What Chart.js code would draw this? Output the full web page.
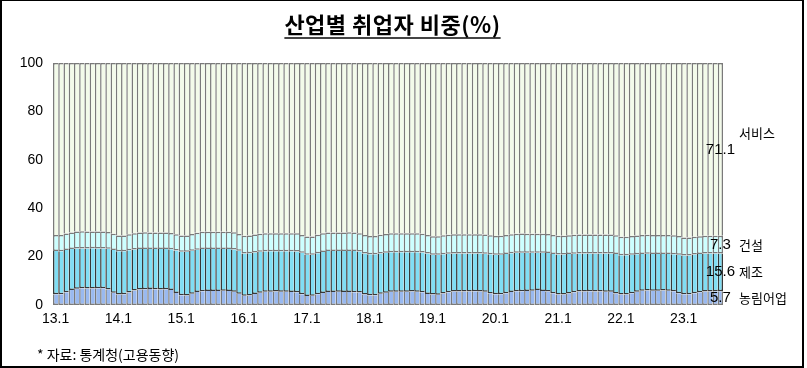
<!DOCTYPE html>
<html>
<head>
<meta charset="utf-8">
<script src="https://cdn.jsdelivr.net/npm/chart.js@4.4.0/dist/chart.umd.min.js"></script>
<style>
  body { margin: 0; background: #fff; }
  #wrap { position: relative; width: 807px; height: 368px; }
  #frame { position: absolute; left: 0; top: 0; width: 804px; height: 368px; box-sizing: border-box;
           border: 2px solid #000; border-top-width: 1px; pointer-events: none; }
  #title { position: absolute; left: 0; top: 12px; width: 785px; text-align: center;
           font: bold 22px "Noto Sans CJK KR", sans-serif; line-height: 22px; color: #000;
           letter-spacing: 0.5px;
           text-decoration: underline; text-underline-offset: 4px; text-decoration-color: #444; }
  #note { position: absolute; left: 37px; top: 346px; font: 14px "Noto Sans CJK KR", sans-serif;
          line-height: 16px; color: #000; }
  canvas { position: absolute; left: 0; top: 0; }
</style>
</head>
<body>
<div id="wrap">
  <canvas id="c" width="807" height="368"></canvas>
  <div id="title">산업별 취업자 비중(%)</div>
  <div id="note">* 자료: 통계청(고용동향)</div>
  <div id="frame"></div>
</div>
<script>
// 농림어업, 제조, 건설, 서비스 share (%), monthly 13.1 ~ 23.8
const agri = [
  4.4,4.4,5.3,6.2,6.7,6.9,6.8,6.8,6.9,6.9,6.4,5.1,
  4.3,4.4,5.2,6.0,6.4,6.5,6.6,6.5,6.4,6.5,6.2,5.0,
  4.0,3.9,4.7,5.4,5.7,5.8,5.8,5.8,5.9,5.8,5.5,4.6,
  3.8,3.9,4.5,5.1,5.5,5.5,5.6,5.5,5.5,5.4,5.3,4.4,
  3.7,3.8,4.4,5.0,5.4,5.4,5.5,5.4,5.4,5.3,5.2,4.3,
  4.0,4.0,4.6,5.1,5.5,5.5,5.5,5.5,5.6,5.5,5.3,4.5,
  4.3,4.2,4.8,5.3,5.6,5.6,5.6,5.6,5.7,5.6,5.5,4.8,
  4.4,4.4,4.9,5.4,5.7,5.7,5.8,5.9,6.2,5.8,5.6,4.9,
  4.3,4.3,4.8,5.3,5.6,5.6,5.7,5.6,5.6,5.5,5.5,4.8,
  4.3,4.3,4.9,5.5,5.9,6.0,5.9,5.9,6.0,5.9,5.7,4.9,
  4.4,4.4,4.9,5.3,5.6,5.6,5.7,5.7
];
const mfg = [
  17.9,17.8,17.4,16.9,16.6,16.4,16.5,16.6,16.4,16.4,16.8,17.6,
  17.9,17.8,17.4,16.9,16.7,16.6,16.5,16.6,16.7,16.6,16.8,17.5,
  18.0,18.1,17.7,17.4,17.4,17.3,17.3,17.3,17.2,17.3,17.4,17.8,
  17.5,17.5,17.2,16.9,16.7,16.7,16.6,16.7,16.7,16.8,16.8,17.2,
  17.1,17.0,17.0,16.9,16.9,16.9,16.8,16.9,16.9,17.0,16.9,17.0,
  17.0,17.0,16.7,16.5,16.3,16.3,16.3,16.3,16.2,16.3,16.4,16.8,
  16.5,16.6,16.2,15.9,15.7,15.7,15.7,15.7,15.6,15.7,15.7,16.2,
  16.4,16.4,16.2,16.0,15.9,15.9,15.8,15.7,15.4,15.8,15.9,16.2,
  16.6,16.6,16.3,15.9,15.7,15.7,15.6,15.7,15.7,15.8,15.8,16.3,
  16.3,16.3,15.9,15.5,15.2,15.2,15.2,15.2,15.1,15.2,15.3,15.9,
  16.1,16.1,16.0,15.8,15.7,15.7,15.6,15.6
];
const cons = [
  6.6,6.7,6.8,6.9,7.1,7.2,7.1,7.0,7.1,7.1,7.0,6.7,
  6.5,6.5,6.6,6.8,6.9,7.0,6.9,6.9,6.9,6.9,6.8,6.7,
  6.7,6.7,6.9,7.1,7.2,7.2,7.2,7.2,7.2,7.2,7.2,6.9,
  7.3,7.3,7.4,7.4,7.5,7.5,7.5,7.5,7.5,7.5,7.5,7.3,
  7.5,7.5,7.6,7.7,7.7,7.7,7.7,7.7,7.8,7.7,7.6,7.6,
  7.5,7.5,7.7,7.7,7.8,7.8,7.8,7.8,7.8,7.8,7.7,7.6,
  7.6,7.6,7.8,7.8,7.9,7.9,7.9,7.9,7.9,7.9,7.9,7.8,
  7.7,7.8,7.8,7.8,7.8,7.9,7.8,7.8,7.8,7.8,7.8,7.8,
  7.7,7.7,7.7,7.8,7.8,7.8,7.8,7.8,7.8,7.8,7.8,7.7,
  7.6,7.6,7.7,7.7,7.8,7.8,7.8,7.8,7.8,7.8,7.8,7.7,
  7.4,7.4,7.3,7.3,7.3,7.3,7.3,7.3
];
const svc = [
  71.1,71.1,70.5,70.0,69.6,69.5,69.6,69.6,69.6,69.6,69.8,70.6,
  71.3,71.3,70.8,70.3,70.0,69.9,70.0,70.0,70.0,70.0,70.2,70.8,
  71.3,71.3,70.7,70.1,69.7,69.7,69.7,69.7,69.7,69.7,69.9,70.7,
  71.4,71.3,70.9,70.6,70.3,70.3,70.3,70.3,70.3,70.3,70.4,71.1,
  71.7,71.7,71.0,70.4,70.0,70.0,70.0,70.0,69.9,70.0,70.3,71.1,
  71.5,71.5,71.0,70.7,70.4,70.4,70.4,70.4,70.4,70.4,70.6,71.1,
  71.6,71.6,71.2,71.0,70.8,70.8,70.8,70.8,70.8,70.8,70.9,71.2,
  71.5,71.4,71.1,70.8,70.6,70.5,70.6,70.6,70.6,70.6,70.7,71.1,
  71.4,71.4,71.2,71.0,70.9,70.9,70.9,70.9,70.9,70.9,70.9,71.2,
  71.8,71.8,71.5,71.3,71.1,71.0,71.1,71.1,71.1,71.1,71.2,71.5,
  72.1,72.1,71.8,71.6,71.4,71.4,71.4,71.4
];
// values printed at the right end (as printed in the source)
const endValues = [5.7, 15.6, 7.3, 71.1];
const years = ['13','14','15','16','17','18','19','20','21','22','23'];
const yTicks = [0, 20, 40, 60, 80, 100];

const labels = [];
years.forEach(y => {
  for (let m = 1; m <= 12; m++) labels.push(y + '.' + m);
});
labels.length = agri.length;

Chart.defaults.font.family = '"Liberation Sans", Arial, sans-serif';
Chart.defaults.color = '#000';

const GRAY = '#7a7a7a';
const DARK = '#383838';
const lastIdx = agri.length - 1;

// borders: one line between neighbouring bars, no doubled lines at stack joins
const bw = (top, bottom) => ctx => ({
  top: top, bottom: bottom, left: 1.5, right: ctx.dataIndex === lastIdx ? 1.5 : 0
});

const endLabels = {
  id: 'endLabels',
  afterDatasetsDraw(chart) {
    const { ctx, chartArea, scales: { x, y } } = chart;
    const cx = x.getPixelForValue(lastIdx);
    let base = 0;
    ctx.save();
    ctx.fillStyle = '#000';
    ctx.textBaseline = 'middle';
    endValues.forEach((v, i) => {
      const mid = y.getPixelForValue(base + v / 2);
      base += v;
      ctx.font = '15px "Liberation Sans", Arial, sans-serif';
      ctx.textAlign = 'center';
      ctx.fillText(v.toFixed(1), cx, mid);
      ctx.font = '13px "Noto Sans CJK KR", sans-serif';
      ctx.textAlign = 'left';
      ctx.fillText(chart.data.datasets[i].label, chartArea.right + 16, i === 3 ? mid - 17 : mid);
    });
    ctx.restore();
  }
};

new Chart(document.getElementById('c'), {
  type: 'bar',
  data: {
    labels: labels,
    datasets: [
      { label: '농림어업', data: agri, backgroundColor: '#99b9f0', borderColor: GRAY, borderWidth: bw(0, 1.5) },
      { label: '제조', data: mfg, backgroundColor: '#80def4', borderColor: DARK, borderWidth: bw(0, 1.5) },
      { label: '건설', data: cons, backgroundColor: '#ccffff', borderColor: GRAY, borderWidth: bw(1.5, 1.5) },
      { label: '서비스', data: svc, backgroundColor: '#f3fbea', borderColor: GRAY, borderWidth: bw(1.5, 0) }
    ]
  },
  options: {
    responsive: false,
    animation: false,
    datasets: {
      bar: { barPercentage: 1, categoryPercentage: 1, borderSkipped: false, inflateAmount: 0 }
    },
    layout: { padding: { left: 0, right: 84, top: 63, bottom: 0 } },
    plugins: { legend: { display: false }, tooltip: { enabled: false } },
    scales: {
      x: {
        stacked: true,
        grid: { display: false, drawTicks: false },
        border: { display: false },
        ticks: {
          autoSkip: false, maxRotation: 0, minRotation: 0, padding: 6,
          font: { size: 14 },
          callback: (v, i) => (i % 12 === 0 ? labels[i] : '')
        },
        afterFit: s => { s.height = 63; }
      },
      y: {
        stacked: true,
        min: 0, max: 100,
        grid: { display: false, drawTicks: false },
        border: { display: false },
        afterBuildTicks: s => { s.ticks = yTicks.map(v => ({ value: v })); },
        ticks: { padding: 10, font: { size: 14 } },
        afterFit: s => { s.width = 53; }
      }
    }
  },
  plugins: [endLabels]
});
</script>
</body>
</html>
